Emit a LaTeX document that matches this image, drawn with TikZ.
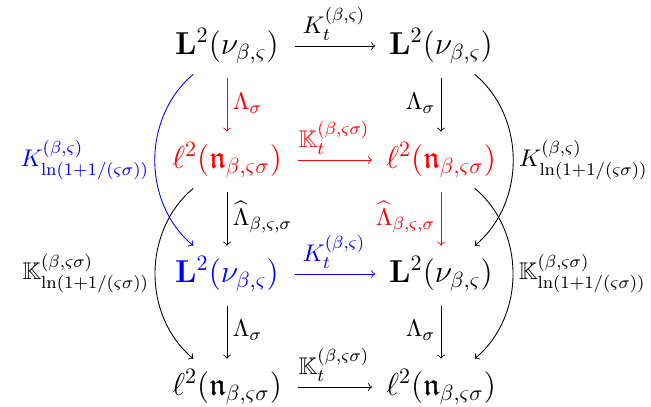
\documentclass[tikz,border=0pt]{standalone}
\usepackage{amsmath,amssymb}
\DeclareMathSizes{10.95}{10.95}{8}{6}
\newcommand{\clab}[2]{#1^{#2}_{\ln(1+1/(\varsigma\sigma))}}
\begin{document}
\begin{tikzpicture}[x=0.4545pt,y=0.4545pt,
  obj/.style={font=\Large, inner sep=4.8pt},
  lab/.style={font=\fontsize{10.95}{13.6}\selectfont, inner sep=2.5pt},
  arr/.style={->, line width=0.4pt},
  harr/.style={arr, shorten <=2.2pt, shorten >=1.4pt},
  varr/.style={arr, shorten <=1.5pt},
  >=to]
\useasboundingbox (0,0) rectangle (651,-406);
\node[obj] (A11) at (227,-46) {$\mathbf{L}^2(\nu_{\beta,\varsigma})$};
\node[obj] (A12) at (441,-46) {$\mathbf{L}^2(\nu_{\beta,\varsigma})$};
\node[obj,red] (A21) at (227,-160) {$\ell^2(\mathfrak{n}_{\beta,\varsigma\sigma})$};
\node[obj,red] (A22) at (441,-160) {$\ell^2(\mathfrak{n}_{\beta,\varsigma\sigma})$};
\node[obj,blue] (A31) at (227,-274) {$\mathbf{L}^2(\nu_{\beta,\varsigma})$};
\node[obj] (A32) at (441,-274) {$\mathbf{L}^2(\nu_{\beta,\varsigma})$};
\node[obj] (A41) at (227,-387) {$\ell^2(\mathfrak{n}_{\beta,\varsigma\sigma})$};
\node[obj] (A42) at (441,-387) {$\ell^2(\mathfrak{n}_{\beta,\varsigma\sigma})$};
% horizontal
\draw[harr] (A11) -- node[lab,above] {$K_t^{(\beta,\varsigma)}$} (A12);
\draw[harr,red] (A21) -- node[lab,above] {$\mathbb{K}_t^{(\beta,\varsigma\sigma)}$} (A22);
\draw[harr,blue] (A31) -- node[lab,above] {$K_t^{(\beta,\varsigma)}$} (A32);
\draw[harr] (A41) -- node[lab,above] {$\mathbb{K}_t^{(\beta,\varsigma\sigma)}$} (A42);
% vertical
\draw[varr,red] (A11) -- node[lab,right] {$\Lambda_\sigma$} (A21);
\draw[varr] (A12) -- node[lab,left] {$\Lambda_\sigma$} (A22);
\draw[varr] (A21) -- node[lab,right] {$\widehat{\Lambda}_{\beta,\varsigma,\sigma}$} (A31);
\draw[varr,red] (A22) -- node[lab,left] {$\widehat{\Lambda}_{\beta,\varsigma,\sigma}$} (A32);
\draw[varr] (A31) -- node[lab,right] {$\Lambda_\sigma$} (A41);
\draw[varr] (A32) -- node[lab,left] {$\Lambda_\sigma$} (A42);
% curved
\draw[arr,blue] (A11) to[bend right=50] node[lab,left] {$\clab{K}{(\beta,\varsigma)}$} (A31);
\draw[arr] (A21) to[bend right=50] node[lab,left] {$\clab{\mathbb{K}}{(\beta,\varsigma\sigma)}$} (A41);
\draw[arr] (A12) to[bend left=50] node[lab,right] {$\clab{K}{(\beta,\varsigma)}$} (A32);
\draw[arr] (A22) to[bend left=50] node[lab,right] {$\clab{\mathbb{K}}{(\beta,\varsigma\sigma)}$} (A42);
\end{tikzpicture}
\end{document}
